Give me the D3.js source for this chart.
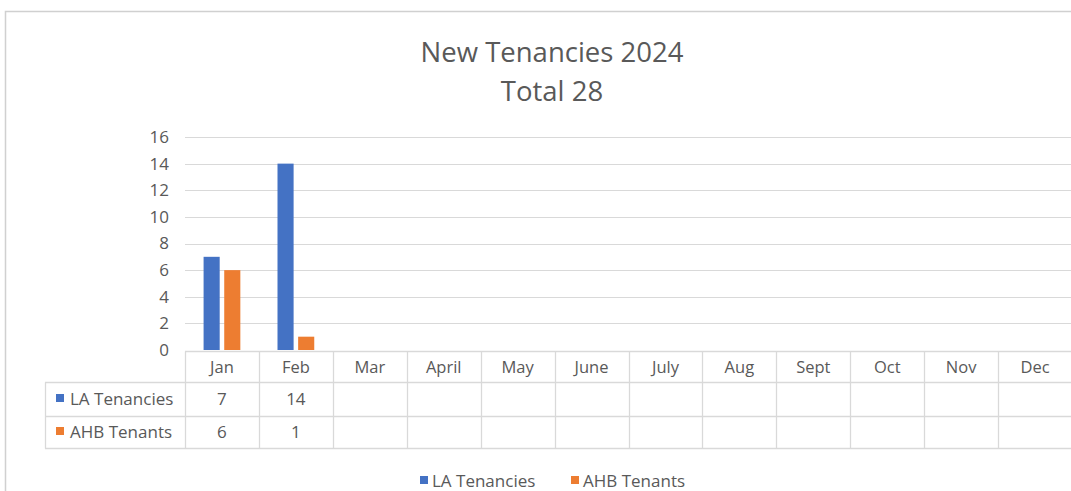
<!DOCTYPE html>
<html><head><meta charset="utf-8">
<script src="https://cdn.jsdelivr.net/npm/d3@7"></script>
<style>body{margin:0;background:#fff;} svg{display:block;} text{font-family:"Open Sans",sans-serif;}</style>
</head><body>
<svg id="c" width="1071" height="491"></svg>
<script>
const months = ["Jan","Feb","Mar","April","May","June","July","Aug","Sept","Oct","Nov","Dec"];
const seriesNames = ["LA Tenancies","AHB Tenants"];
const laTenancies = [7,14,null,null,null,null,null,null,null,null,null,null];
const ahbTenants = [6,1,null,null,null,null,null,null,null,null,null,null];
const yTicks = [0,2,4,6,8,10,12,14,16];
const colors = ["#4472C4","#ED7D31"];
const titleLines = ["New Tenancies 2024","Total 28"];

const svg = d3.select("#c");
const textCol = "#595959", gridCol = "#d9d9d9";

// outer border
svg.append("path").attr("d","M5.5,491 V11.5 H1071").attr("fill","none").attr("stroke","#d0d0d0").attr("stroke-width",1.5);

// title
svg.selectAll("text.title").data(titleLines).join("text").attr("class","title")
  .attr("x",552).attr("y",(d,i)=>62+i*39).attr("text-anchor","middle")
  .attr("font-size",27.5).attr("fill",textCol).text(d=>d);

const x = d3.scaleBand().domain(months).range([185,1072]).padding(0);
const y = d3.scaleLinear().domain([0,16]).range([350,137]);
const x1 = d3.scaleBand().domain(seriesNames).range([0,x.bandwidth()]).paddingInner(0.22).paddingOuter(0.9);

// gridlines
svg.append("g").selectAll("line").data(yTicks.filter(d=>d>0)).join("line")
  .attr("x1",185).attr("x2",1071).attr("y1",d=>Math.round(y(d))+0.5).attr("y2",d=>Math.round(y(d))+0.5)
  .attr("stroke",gridCol).attr("stroke-width",1);

// y axis labels
const yAxis = d3.axisLeft(y).tickValues(yTicks).tickSize(0).tickPadding(0);
const gy = svg.append("g").attr("transform","translate(169,0)").call(yAxis);
gy.select(".domain").remove();
gy.selectAll("text").attr("font-size",17).attr("fill",textCol).attr("font-family","'Open Sans',sans-serif");

// bars
const data = [laTenancies, ahbTenants];
seriesNames.forEach((s,si)=>{
  svg.append("g").selectAll("rect").data(months.map((m,i)=>({m,v:data[si][i]})).filter(d=>d.v!=null)).join("rect")
    .attr("x",d=>x(d.m)+x1(s)).attr("width",x1.bandwidth())
    .attr("y",d=>y(d.v)).attr("height",d=>y(0)-y(d.v)).attr("fill",colors[si]);
});

// table
const rowY = [351.5,382.5,416.5,448.5];
const tg = svg.append("g").attr("stroke",gridCol).attr("stroke-width",1.3);
tg.append("line").attr("x1",185).attr("x2",1071).attr("y1",rowY[0]).attr("y2",rowY[0]);
rowY.slice(1).forEach(yy=>tg.append("line").attr("x1",45).attr("x2",1071).attr("y1",yy).attr("y2",yy));
tg.append("line").attr("x1",45.5).attr("x2",45.5).attr("y1",rowY[1]).attr("y2",rowY[3]);
months.forEach(m=>tg.append("line").attr("x1",Math.round(x(m))+0.5).attr("x2",Math.round(x(m))+0.5).attr("y1",rowY[0]).attr("y2",rowY[3]));

// header
svg.append("g").selectAll("text").data(months).join("text")
  .attr("x",d=>x(d)+x.bandwidth()/2).attr("y",373).attr("text-anchor","middle")
  .attr("font-size",16.5).attr("fill",textCol).text(d=>d);

// rows
seriesNames.forEach((s,si)=>{
  const cy = [405,438][si];
  svg.append("rect").attr("x",56).attr("y",cy-11).attr("width",8).attr("height",8).attr("fill",colors[si]);
  svg.append("text").attr("x",70).attr("y",cy).attr("font-size",17).attr("fill",textCol).text(s);
  svg.append("g").selectAll("text").data(months.map((m,i)=>({m,v:data[si][i]})).filter(d=>d.v!=null)).join("text")
    .attr("x",d=>x(d.m)+x.bandwidth()/2).attr("y",cy).attr("text-anchor","middle")
    .attr("font-size",17).attr("fill",textCol).text(d=>d.v);
});

// legend
const legX = [420,571];
seriesNames.forEach((s,si)=>{
  svg.append("rect").attr("x",legX[si]).attr("y",476).attr("width",8).attr("height",8).attr("fill",colors[si]);
  svg.append("text").attr("x",legX[si]+12).attr("y",487).attr("font-size",17).attr("fill",textCol).text(s);
});
</script>
</body></html>
